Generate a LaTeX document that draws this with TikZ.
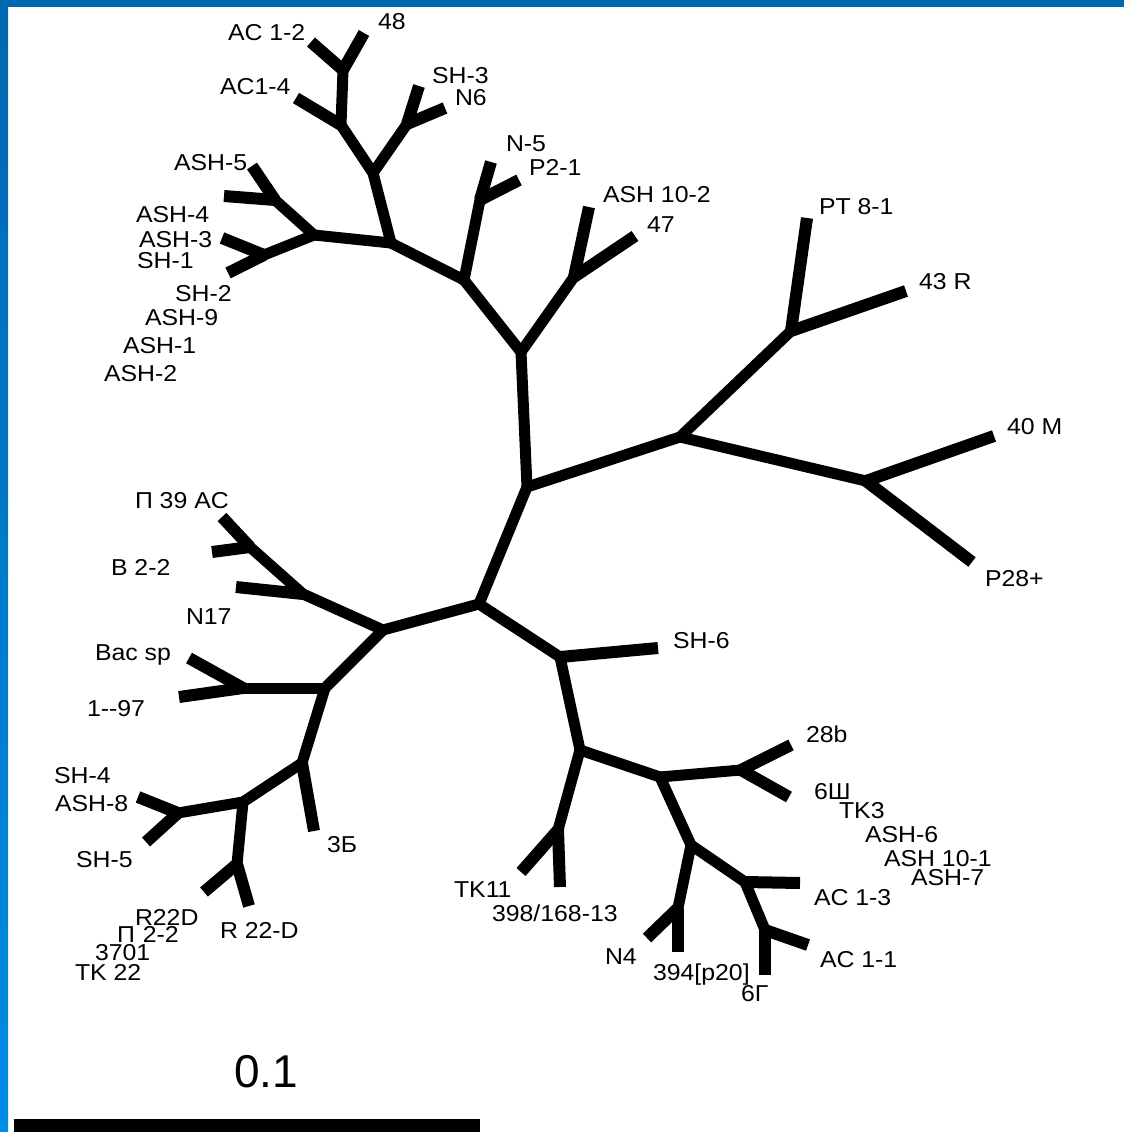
\documentclass[tikz,border=0pt]{standalone}
\usepackage{fontspec}
\setmainfont{Liberation Sans}[FakeStretch=1.08]
\newfontfamily\plainsans{Liberation Sans}
\definecolor{topblue}{RGB}{0,103,177}
\definecolor{lowblue}{RGB}{0,140,228}
\begin{document}
\begin{tikzpicture}[x=1pt,y=-1pt,
  int/.style={line width=11pt, line cap=round, line join=round},
  tipbr/.style={line width=12pt, line cap=butt},
  lab/.style={font=\fontsize{23}{23}\selectfont, anchor=base west, inner sep=0pt, outer sep=0pt}]
\useasboundingbox (0,0) rectangle (1124,1132);
\fill[white] (0,0) rectangle (1124,1132);
\fill[topblue] (0,0) rectangle (1124,7);
\shade[top color=topblue, bottom color=lowblue] (0,0) rectangle (8,1132);

% junctions
\coordinate (J0) at (527,487);
\coordinate (J8) at (521,352);
\coordinate (J6) at (464,280);
\coordinate (J7) at (480,200);
\coordinate (J1) at (391,243);
\coordinate (J2) at (373,173);
\coordinate (J3) at (341,125);
\coordinate (J4) at (343,70);
\coordinate (J5) at (407,124);
\coordinate (JA) at (314,235);
\coordinate (JA1) at (275,200);
\coordinate (JA2) at (264,255);
\coordinate (J26) at (574,277);
\coordinate (J9) at (680,437);
\coordinate (J27) at (791,331);
\coordinate (J28) at (866,481);
\coordinate (J10) at (479,604);
\coordinate (J11) at (383,630);
\coordinate (JP) at (303,594);
\coordinate (JP1) at (250,547);
\coordinate (J12) at (325,688);
\coordinate (JB) at (243,688);
\coordinate (J13) at (302,763);
\coordinate (J14) at (243,802);
\coordinate (J15) at (178,813);
\coordinate (J16) at (237,864);
\coordinate (J17) at (560,657);
\coordinate (J18) at (580,750);
\coordinate (J19) at (558,830);
\coordinate (J20) at (660,777);
\coordinate (J21) at (741,770);
\coordinate (J22) at (691,845);
\coordinate (J23) at (678,908);
\coordinate (J24) at (745,882);
\coordinate (J25) at (765,930);

% tips
\coordinate (tN5) at (491,162);
\coordinate (tP21) at (519,180);
\coordinate (tAC14) at (296,98);
\coordinate (tAC12) at (311,42);
\coordinate (t48) at (364,33);
\coordinate (tSH3) at (419,86);
\coordinate (tN6) at (445,108);
\coordinate (tASH5) at (252,166);
\coordinate (tASH4) at (224,196);
\coordinate (tASH3) at (222,238);
\coordinate (tSH1) at (228,273);
\coordinate (tASH102) at (589,207);
\coordinate (t47) at (635,236);
\coordinate (tPT81) at (807,218);
\coordinate (t43R) at (906,291);
\coordinate (t40M) at (994,436);
\coordinate (tP28) at (972,562);
\coordinate (tP39) at (222,517);
\coordinate (tB22) at (212,552);
\coordinate (tN17) at (236,587);
\coordinate (tBac) at (189,658);
\coordinate (t197) at (179,697);
\coordinate (t3B) at (314,831);
\coordinate (tSH4) at (138,797);
\coordinate (tSH5) at (146,842);
\coordinate (tR22D) at (204,892);
\coordinate (tR22Db) at (249,906);
\coordinate (tSH6) at (658,648);
\coordinate (tTK11) at (521,872);
\coordinate (t398) at (560,887);
\coordinate (t28b) at (791,745);
\coordinate (t6Sh) at (789,797);
\coordinate (tN4) at (647,938);
\coordinate (t394) at (678,952);
\coordinate (tAC13) at (800,883);
\coordinate (tAC11) at (808,945);
\coordinate (t6G) at (765,975);

% terminal branches
\foreach \a/\b in {J7/tN5, J7/tP21, J3/tAC14, J4/tAC12, J4/t48, J5/tSH3, J5/tN6,
  JA1/tASH5, JA1/tASH4, JA2/tASH3, JA2/tSH1, J26/tASH102, J26/t47,
  J27/tPT81, J27/t43R, J28/t40M, J28/tP28, JP1/tP39, JP1/tB22, JP/tN17,
  JB/tBac, JB/t197, J13/t3B, J15/tSH4, J15/tSH5, J16/tR22D, J16/tR22Db,
  J17/tSH6, J19/tTK11, J19/t398, J21/t28b, J21/t6Sh, J23/tN4, J23/t394,
  J24/tAC13, J25/tAC11, J25/t6G}
  \draw[tipbr] (\a) -- (\b);

% internal branches
\foreach \a/\b in {J0/J8, J8/J6, J6/J7, J6/J1, J1/J2, J2/J3, J3/J4, J2/J5,
  J1/JA, JA/JA1, JA/JA2, J8/J26, J0/J9, J9/J27, J9/J28, J0/J10, J10/J11,
  J11/JP, JP/JP1, J11/J12, J12/JB, J12/J13, J13/J14, J14/J15, J14/J16,
  J10/J17, J17/J18, J18/J19, J18/J20, J20/J21, J20/J22, J22/J23, J22/J24, J24/J25}
  \draw[int] (\a) -- (\b);

% labels
\node[lab] (lAC12) at (228,41) {AC 1-2};
\node[lab] (l48) at (378,30) {48};
\node[lab] (lAC14) at (220,95) {AC1-4};
\node[lab] (lSH3) at (432,83) {SH-3};
\node[lab] (lN6) at (455,105) {N6};
\node[lab] (lN5) at (506,151) {N-5};
\node[lab] (lP21) at (529,175) {P2-1};
\node[lab] (lASH102) at (603,202) {ASH 10-2};
\node[lab] (l47) at (647,232) {47};
\node[lab] (lPT81) at (819,214) {PT 8-1};
\node[lab] (l43R) at (919,289) {43 R};
\node[lab] (l40M) at (1007,434) {40 M};
\node[lab] (lP28) at (985,586) {P28+};
\node[lab] (lASH5) at (174,170) {ASH-5};
\node[lab] (lASH4) at (136,222) {ASH-4};
\node[lab] (lASH3) at (139,247) {ASH-3};
\node[lab] (lSH1) at (137,268) {SH-1};
\node[lab] (lSH2) at (175,301) {SH-2};
\node[lab] (lASH9) at (145,325) {ASH-9};
\node[lab] (lASH1) at (123,353) {ASH-1};
\node[lab] (lASH2) at (104,381) {ASH-2};
\node[lab] (lP39) at (135,508) {П 39 AC};
\node[lab] (lB22) at (111,575) {B 2-2};
\node[lab] (lN17) at (186,624) {N17};
\node[lab] (lBac) at (95,660) {Bac sp};
\node[lab] (l197) at (87,716) {1-{}-97};
\node[lab] (lSH4) at (54,783) {SH-4};
\node[lab] (lASH8) at (55,811) {ASH-8};
\node[lab] (lSH5) at (76,867) {SH-5};
\node[lab] (l3B) at (327,852) {3Б};
\node[lab] (lR22D) at (135,925) {R22D};
\node[lab] (lP22) at (117,942) {П\hspace{8pt}2-2};
\node[lab] (l3701) at (95,960) {3701};
\node[lab] (lTK22) at (75,980) {TK 22};
\node[lab] (lR22Db) at (220,938) {R 22-D};
\node[lab] (lSH6) at (673,648) {SH-6};
\node[lab] (l28b) at (806,742) {28b};
\node[lab] (l6Sh) at (814,799) {6Ш};
\node[lab] (lTK3) at (839,818) {TK3};
\node[lab] (lASH6) at (865,842) {ASH-6};
\node[lab] (lASH101) at (884,866) {ASH 10-1};
\node[lab] (lASH7) at (911,885) {ASH-7};
\node[lab] (lAC13) at (814,905) {AC 1-3};
\node[lab] (lAC11) at (820,967) {AC 1-1};
\node[lab] (lTK11) at (454,897) {TK11};
\node[lab] (l398) at (492,921) {398/168-13};
\node[lab] (lN4) at (605,964) {N4};
\node[lab] (l394) at (653,980) {394[p20]};
\node[lab] (l6G) at (741,1001) {6Г};

% scale bar
\node[anchor=base west, inner sep=0pt, font=\plainsans\fontsize{46}{46}\selectfont] (scalelab) at (234,1087) {0.1};
\fill[black] (14,1119) rectangle (480,1132);
\end{tikzpicture}
\end{document}
